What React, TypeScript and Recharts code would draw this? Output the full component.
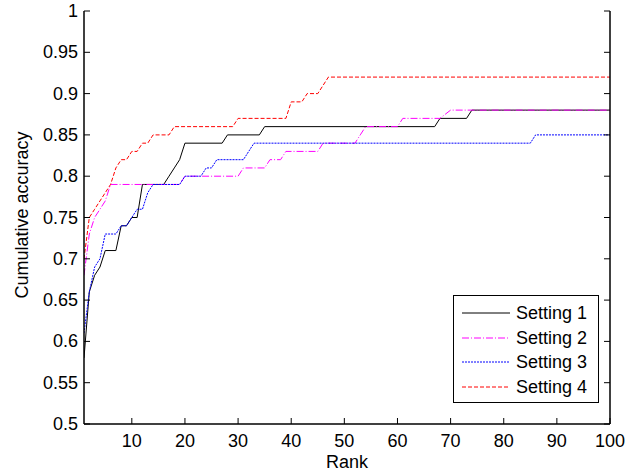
import { Label, Line, LineChart, XAxis, YAxis } from "recharts";

// [rank, cumulative accuracy]
const setting1: [number, number][] = [
  [1, 0.58], [2, 0.66], [3, 0.68], [4, 0.69], [5, 0.71], [7, 0.71], [8, 0.74], [9, 0.74],
  [10, 0.75], [11, 0.75], [12, 0.79], [16, 0.79], [17, 0.8], [18, 0.81], [19, 0.82], [20, 0.84],
  [27, 0.84], [28, 0.85], [34, 0.85], [35, 0.86], [67, 0.86], [68, 0.87], [73, 0.87], [74, 0.88],
  [100, 0.88]
];

const setting2: [number, number][] = [
  [1, 0.68], [2, 0.73], [3, 0.75], [4, 0.76], [5, 0.77], [6, 0.79], [19, 0.79], [20, 0.8],
  [30, 0.8], [31, 0.81], [35, 0.81], [36, 0.82], [38, 0.82], [39, 0.83], [45, 0.83], [46, 0.84],
  [52, 0.84], [53, 0.85], [54, 0.86], [60, 0.86], [61, 0.87], [68, 0.87], [70, 0.88], [100, 0.88]
];

const setting3: [number, number][] = [
  [1, 0.61], [2, 0.66], [3, 0.69], [4, 0.7], [5, 0.73], [7, 0.73], [8, 0.74], [9, 0.74],
  [10, 0.75], [11, 0.76], [12, 0.76], [13, 0.78], [14, 0.79], [19, 0.79], [20, 0.8], [23, 0.8],
  [24, 0.81], [25, 0.81], [26, 0.82], [31, 0.82], [33, 0.84], [85, 0.84], [86, 0.85], [100, 0.85]
];

const setting4: [number, number][] = [
  [1, 0.7], [2, 0.75], [3, 0.76], [4, 0.77], [5, 0.78], [6, 0.79], [7, 0.81], [8, 0.82],
  [9, 0.82], [10, 0.83], [11, 0.83], [12, 0.84], [13, 0.84], [14, 0.85], [17, 0.85], [18, 0.86],
  [29, 0.86], [30, 0.87], [39, 0.87], [40, 0.89], [42, 0.89], [43, 0.9], [45, 0.9], [47, 0.92],
  [100, 0.92]
];

const xTicks = [10, 20, 30, 40, 50, 60, 70, 80, 90, 100];
const yTicks = [0.5, 0.55, 0.6, 0.65, 0.7, 0.75, 0.8, 0.85, 0.9, 0.95, 1];

const FONT = "'Liberation Sans', Arial, sans-serif";
const TICK_LEN = 6;
const LABEL_GAP = 6;

const series = [
  { name: "Setting 1", points: setting1, color: "#000000", dash: undefined },
  { name: "Setting 2", points: setting2, color: "#ff00ff", dash: "7 2 1 2" },
  { name: "Setting 3", points: setting3, color: "#0000ff", dash: "2 1" },
  { name: "Setting 4", points: setting4, color: "#ff0000", dash: "4 2" }
];

function toRows(points: [number, number][]) {
  return points.map(([rank, acc]) => ({ rank, acc }));
}

function LeftTick({ x, y, payload }: any) {
  return (
    <g>
      <line x1={x + LABEL_GAP} x2={x + LABEL_GAP + TICK_LEN} y1={y} y2={y} stroke="#000" />
      <text x={x} y={y} textAnchor="end" dominantBaseline="central" fontSize={18} fontFamily={FONT} fill="#000">
        {String(payload.value)}
      </text>
    </g>
  );
}

function RightTick({ x, y }: any) {
  return <line x1={x - TICK_LEN} x2={x} y1={y} y2={y} stroke="#000" />;
}

function BottomTick({ x, y, payload }: any) {
  return (
    <g>
      <line x1={x} x2={x} y1={y - LABEL_GAP} y2={y - LABEL_GAP - TICK_LEN} stroke="#000" />
      <text x={x} y={y + 11} textAnchor="middle" dominantBaseline="central" fontSize={18} fontFamily={FONT} fill="#000">
        {String(payload.value)}
      </text>
    </g>
  );
}

function TopTick({ x, y }: any) {
  return <line x1={x} x2={x} y1={y} y2={y + TICK_LEN} stroke="#000" />;
}

function LegendBox() {
  return (
    <div
      style={{
        position: "absolute",
        left: 453,
        top: 295,
        border: "1px solid #000",
        background: "#fff",
        width: 146,
        height: 108,
        boxSizing: "border-box",
        padding: "5px 0 0 7px",
        fontFamily: FONT,
        fontSize: 18
      }}
    >
      {series.map((s) => (
        <div key={s.name} style={{ display: "flex", alignItems: "center", height: 24.5 }}>
          <svg width={50} height={10} style={{ marginRight: 5 }}>
            <line x1={1} x2={49} y1={5} y2={5} stroke={s.color} strokeDasharray={s.dash} />
          </svg>
          <span style={{ lineHeight: "24px" }}>{s.name}</span>
        </div>
      ))}
    </div>
  );
}

export default function App() {
  return (
    <div style={{ position: "absolute", left: 0, top: 0, width: 640, height: 474, background: "#fff" }}>
      <LineChart width={640} height={474} margin={{ top: 11, right: 29, bottom: 0, left: 0 }}>
        <XAxis
          xAxisId="top"
          orientation="top"
          type="number"
          domain={[1, 100]}
          allowDataOverflow
          ticks={xTicks}
          interval={0}
          height={0}
          tickSize={0}
          tickMargin={0}
          tick={<TopTick />}
          axisLine={{ stroke: "#000", strokeWidth: 1.5 }}
          tickLine={false}
        />
        <XAxis
          dataKey="rank"
          type="number"
          domain={[1, 100]}
          allowDataOverflow
          ticks={xTicks}
          interval={0}
          height={50}
          tickSize={0}
          tickMargin={LABEL_GAP}
          tick={<BottomTick />}
          axisLine={{ stroke: "#000", strokeWidth: 1.5 }}
          tickLine={false}
        >
          <Label
            content={() => (
              <text x={347} y={468} textAnchor="middle" fontSize={18} fontFamily={FONT} fill="#000">
                Rank
              </text>
            )}
          />
        </XAxis>
        <YAxis
          type="number"
          domain={[0.5, 1]}
          allowDataOverflow
          ticks={yTicks}
          interval={0}
          width={84}
          tickSize={0}
          tickMargin={LABEL_GAP}
          tick={<LeftTick />}
          axisLine={{ stroke: "#000", strokeWidth: 1.5 }}
          tickLine={false}
        >
          <Label
            content={() => (
              <text
                x={22}
                y={215}
                transform="rotate(-90 22 215)"
                textAnchor="middle"
                dominantBaseline="central"
                fontSize={18}
                fontFamily={FONT}
                fill="#000"
              >
                Cumulative accuracy
              </text>
            )}
          />
        </YAxis>
        <YAxis
          yAxisId="right"
          orientation="right"
          type="number"
          domain={[0.5, 1]}
          allowDataOverflow
          ticks={yTicks}
          interval={0}
          width={1}
          tickSize={0}
          tickMargin={0}
          tick={<RightTick />}
          axisLine={{ stroke: "#000", strokeWidth: 1.5 }}
          tickLine={false}
        />
        {series.map((s) => (
          <Line
            key={s.name}
            name={s.name}
            data={toRows(s.points)}
            dataKey="acc"
            type="linear"
            stroke={s.color}
            strokeWidth={1}
            strokeDasharray={s.dash}
            dot={false}
            activeDot={false}
            isAnimationActive={false}
          />
        ))}
      </LineChart>
      <LegendBox />
    </div>
  );
}
